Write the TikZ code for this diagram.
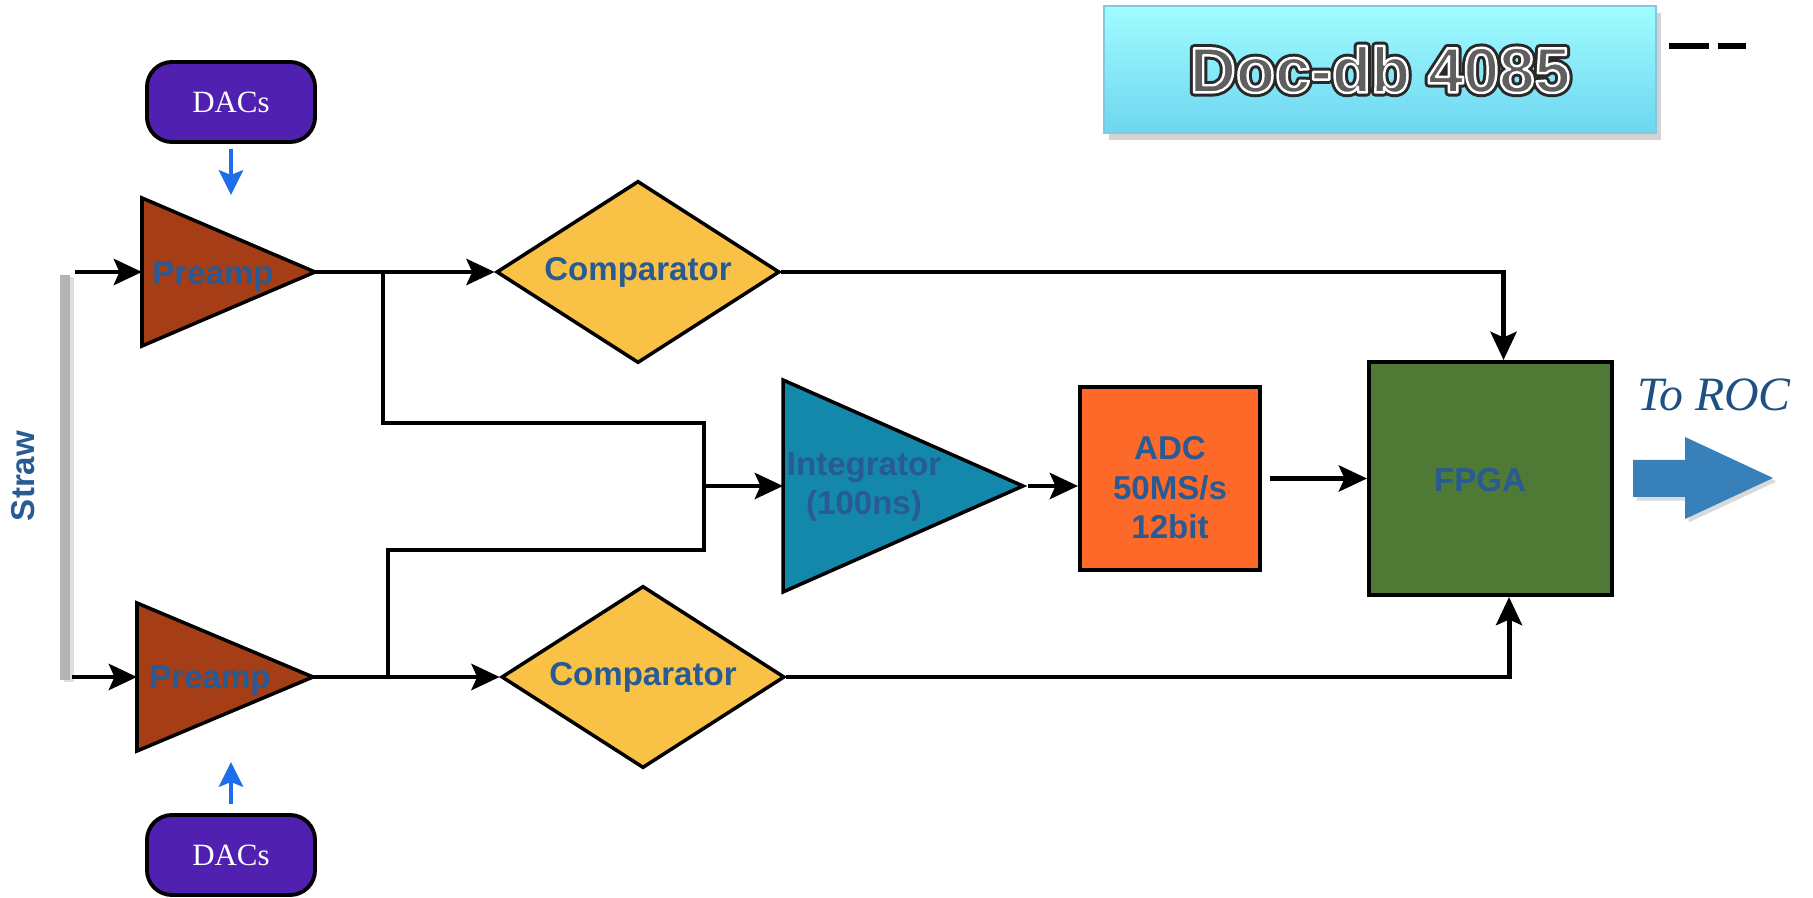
\documentclass[tikz,border=0pt]{standalone}
\usepackage{fontspec}
\setmainfont{Liberation Serif}
\setsansfont{Liberation Sans}
\usepackage{tikz}
\usetikzlibrary{arrows}
\usetikzlibrary{arrows.meta,shapes.geometric,shadows}

\definecolor{lblblue}{RGB}{40,90,148}
\definecolor{preampbrown}{RGB}{165,62,22}
\definecolor{cmpyellow}{RGB}{249,194,70}
\definecolor{intblue}{RGB}{20,136,170}
\definecolor{adcorange}{RGB}{253,105,41}
\definecolor{fpgagreen}{RGB}{79,122,53}
\definecolor{dacpurple}{RGB}{80,33,176}
\definecolor{dacblue}{RGB}{30,110,235}
\definecolor{strawgray}{RGB}{180,180,180}
\definecolor{rocblue}{RGB}{30,80,130}
\definecolor{arrowblue}{RGB}{55,128,185}
\definecolor{doctop}{RGB}{160,252,255}
\definecolor{docbot}{RGB}{110,214,240}
\definecolor{docedge}{RGB}{130,200,225}
\definecolor{docdark}{RGB}{40,40,40}
\definecolor{docgray}{RGB}{95,95,95}

% outlined text: #1 stroke width (bp), #2 stroke colour (rgb), #3 text
\newcommand{\ringtext}[3]{\special{pdf:literal direct 2 Tr 1 j #1 w #2 RG}#3\special{pdf:literal direct 0 Tr}}

\begin{document}
\begin{tikzpicture}[x=0.01cm, y=-0.01cm,
  lbl/.style={font=\sffamily\bfseries\fontsize{9.4}{11.2}\selectfont, text=lblblue, align=center, inner sep=0pt},
  wire/.style={line width=1.4pt},
  sig/.style={wire, -{Stealth[length=8pt,width=7.4pt,inset=1.6pt]}},
  dacsig/.style={line width=1.3pt, dacblue, -{Stealth[length=7pt,width=6.8pt,inset=1.3pt]}},
  amp/.style={draw, line width=1pt},
  dacbox/.style={draw, line width=1.1pt, fill=dacpurple, rounded corners=0.25cm, minimum width=1.68cm, minimum height=0.8cm, text=white, font=\fontsize{8.8}{10}\selectfont},
  cmpbox/.style={diamond, aspect=1.55, draw, line width=1pt, fill=cmpyellow, minimum width=2.83cm, minimum height=1.82cm, lbl},
  blockbox/.style={draw, line width=1.1pt, inner sep=0pt},
  docbox/.style={draw=docedge, line width=0.5pt, top color=doctop, bottom color=docbot, minimum width=5.52cm, minimum height=1.27cm, drop shadow={opacity=0.35, shadow xshift=1.5pt, shadow yshift=-2pt}},
  doctxt/.style={font=\sffamily\bfseries\fontsize{18.2}{20}\selectfont, inner sep=0pt}
]
\useasboundingbox (0,0) rectangle (1813,898);

% straw
\node[fill=strawgray, minimum width=0.1cm, minimum height=4.05cm, inner sep=0pt, drop shadow={opacity=0.25, shadow xshift=1pt, shadow yshift=-0.5pt}] (straw) at (65,477.5) {};
\node[lbl, rotate=90] (strawlbl) at (23,476) {Straw};

% DACs
\node[dacbox] (dac1) at (231,102) {DACs};
\node[dacbox] (dac2) at (231,855) {DACs};

% preamps
\coordinate (pa1in) at (142,272);
\coordinate (pa1out) at (315,272);
\draw[amp, fill=preampbrown] (142,198) -- (pa1out) -- (142,346) -- cycle;
\node[lbl] (pa1lbl) at (213,277) {Preamp};

\coordinate (pa2in) at (137,677);
\coordinate (pa2out) at (313,677);
\draw[amp, fill=preampbrown] (137,603) -- (pa2out) -- (137,751) -- cycle;
\node[lbl] (pa2lbl) at (210,681) {Preamp};

% comparators
\node[cmpbox] (cmp1) at (638,272) {Comparator};
\node[cmpbox] (cmp2) at (643,677) {Comparator};

% integrator
\coordinate (intin) at (783,486);
\coordinate (intout) at (1023,486);
\draw[amp, fill=intblue] (783,380) -- (intout) -- (783,592) -- cycle;
\node[lbl] (intlbl) at (864,487) {Integrator\\(100ns)};

% ADC and FPGA
\node[blockbox, fill=adcorange, minimum width=1.8cm, minimum height=1.83cm] (adc) at (1170,478.5) {};
\node[lbl] (adclbl) at (1170,488) {ADC\\50MS/s\\12bit};
\node[blockbox, fill=fpgagreen, minimum width=2.43cm, minimum height=2.33cm] (fpga) at (1490.5,478.5) {};
\node[lbl] (fpgalbl) at (1480,480) {FPGA};

% to the ROC
\node[font=\itshape\fontsize{13.6}{16}\selectfont, text=rocblue] (roclbl) at (1714,395) {To ROC};
\fill[arrowblue, drop shadow={opacity=0.3, shadow xshift=1pt, shadow yshift=-1pt}] (1633,460) -- (1685,460) -- (1685,437) -- (1773,478) -- (1685,519) -- (1685,497) -- (1633,497) -- cycle;

% connectors
\coordinate (in1) at (75,272);
\coordinate (in2) at (72,677);
\coordinate (j1) at (383,272);
\coordinate (j2) at (388,677);
\coordinate (k1) at (704,423);
\coordinate (k2) at (704,550);
\coordinate (mrg) at (704,486);
\coordinate (d1tip) at (231,195);
\coordinate (d2tip) at (231,762);

\path
    (in1) edge[sig] (pa1in)
    (in2) edge[sig] (pa2in)
    (pa1out) edge[sig] (cmp1.west)
    (pa2out) edge[sig] (cmp2.west)
    (mrg) edge[sig] (intin)
    (intout) edge[sig, shorten <=1.5pt] (intout -| adc.west)
    (adc.east) edge[sig, shorten <=2.3pt] (fpga.west)
    (dac1.south) edge[dacsig, shorten <=1.5pt] (d1tip)
    (dac2.north) edge[dacsig, shorten <=2.5pt] (d2tip);
\draw[wire] (j1) |- (k1) -- (k2) -| (j2);
\draw[sig] (cmp1.east) -| ([xshift=0.13cm]fpga.north);
\draw[sig] (cmp2.east) -| ([xshift=0.185cm]fpga.south);

% doc-db tag
\node[docbox] (docdb) at (1380,69.5) {};
\node[doctxt, text=docdark] (docshade) at (docdb.center) {\ringtext{2.4}{0.16 0.16 0.16}{Doc-db 4085}};
\node[doctxt, text=docgray] (doclbl) at (docdb.center) {\ringtext{0.7}{1 1 1}{Doc-db 4085}};
\draw[line width=1.7pt] (1669,46) -- (1709,46) (1718,46) -- (1746,46);
\end{tikzpicture}
\end{document}
